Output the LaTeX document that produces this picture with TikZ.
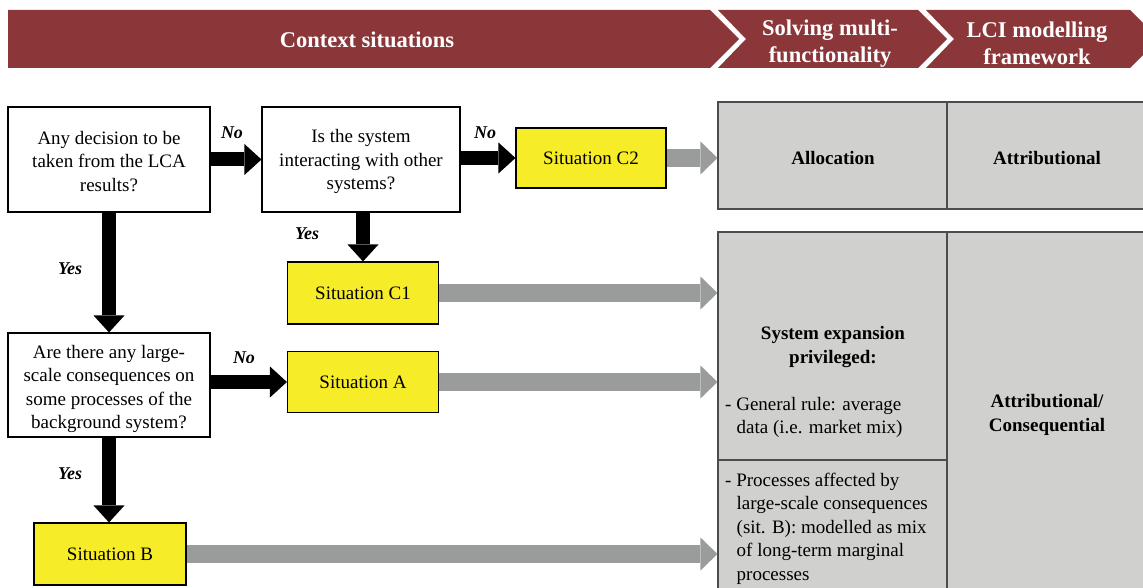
\documentclass[tikz,border=0pt]{standalone}
\usepackage{fontspec}
\setmainfont{Liberation Serif}
\usetikzlibrary{arrows.meta}
\definecolor{hdr}{RGB}{139,54,57}
\definecolor{ylw}{RGB}{247,236,40}
\definecolor{gbox}{RGB}{208,209,207}
\definecolor{garr}{RGB}{154,156,156}
\begin{document}
\begin{tikzpicture}[x=1pt,y=-1pt,
  qbox/.style={draw=black, line width=1.1pt, fill=white, inner sep=0pt},
  qtext/.style={align=center, inner sep=0pt, font=\fontsize{19}{23.5}\selectfont},
  sitbox/.style={draw=black, line width=1.1pt, fill=ylw, align=center, inner sep=0pt,
    font=\fontsize{19}{23.5}\selectfont, minimum width=151pt, minimum height=61pt},
  gcell/.style={draw=black!70, line width=1.1pt, fill=gbox, inner sep=0pt},
  gtext/.style={align=center, inner sep=0pt, font=\fontsize{19}{23.5}\selectfont\bfseries},
  ltext/.style={align=left, anchor=west, inner sep=0pt, font=\fontsize{19}{23.5}\selectfont},
  hdrshape/.style={fill=hdr},
  hdrtext/.style={text=white, align=center, inner sep=0pt, font=\fontsize{22.5}{26.5}\selectfont\bfseries},
  yn/.style={inner sep=0pt, font=\fontsize{18}{20}\selectfont\bfseries\itshape},
  barrow/.style={draw=black, line width=14pt, -{Triangle[length=17pt,width=31pt,line width=0pt]}},
  garrow/.style={draw=garr, line width=18pt, -{Triangle[length=17pt,width=33pt,line width=0pt]}}
]
\useasboundingbox (0,0) rectangle (1143,588);
\clip (0,0) rectangle (1143,588);

% header chevrons
\fill[hdrshape] (8,10) -- (710,10) -- (739,39) -- (710,68) -- (8,68) -- cycle;
\fill[hdrshape] (718,10) -- (918,10) -- (947,39) -- (918,68) -- (718,68) -- (746,39) -- cycle;
\fill[hdrshape] (926,10) -- (1130,10) -- (1159,39) -- (1130,68) -- (926,68) -- (954,39) -- cycle;
\node[hdrtext] (h1) at (367,40) {Context situations};
\node[hdrtext] (h2) at (830,43.5) {Solving multi-\\functionality};
\node[hdrtext] (h3) at (1037,43.5) {LCI modelling\\framework};

% right grey cells
\node[gcell, minimum width=229pt, minimum height=107pt] (alloc) at (832.5,155.5) {};
\node[gcell, minimum width=197pt, minimum height=107pt] (attr) at (1045.5,155.5) {};
\node[gcell, minimum width=229pt, minimum height=228pt] (sysexp) at (832.5,346) {};
\node[gcell, minimum width=229pt, minimum height=130pt] (proc) at (832.5,525) {};
\node[gcell, minimum width=197pt, minimum height=358pt] (attrcons) at (1045.5,411) {};

\node[gtext] (talloc) at (833,158) {Allocation};
\node[gtext] (tattr) at (1047,158) {Attributional};
\node[gtext] (tsys) at (833,347) {System expansion\\privileged:};
\node[gtext] (tattrcons) at (1047,415) {Attributional/\\Consequential};
\node[ltext] (tgen) at (725,417.5) {- General rule: average\\\hspace*{11.5pt}data (i.e. market mix)};
\node[ltext] (tproc) at (725,528.5) {- Processes affected by\\\hspace*{11.5pt}large-scale consequences\\\hspace*{11.5pt}(sit. B): modelled as mix\\\hspace*{11.5pt}of long-term marginal\\\hspace*{11.5pt}processes};

% question boxes
\node[qbox, minimum width=202pt, minimum height=105pt] (q1) at (109,159.5) {};
\node[qtext] (q1t) at ([yshift=-2pt]q1.center) {Any decision to be\\taken from the LCA\\results?};
\node[qbox, minimum width=198pt, minimum height=105pt] (q2) at (361,159.5) {};
\node[qtext] (q2t) at ([yshift=-2pt]q2.center) {Is the system\\interacting with other\\systems?};
\node[qbox, minimum width=202pt, minimum height=104pt] (q3) at (109,385) {};
\node[qtext] (q3t) at ([yshift=-4pt]q3.center) {Are there any large-\\scale consequences on\\some processes of the\\background system?};

% situation boxes
\node[sitbox, minimum width=150pt, minimum height=60pt] (c2) at (591,158) {Situation C2};
\node[sitbox, minimum height=62pt] (c1) at (363,293) {Situation C1};
\node[sitbox] (a) at (363,382) {Situation A};
\node[sitbox, minimum width=152pt, minimum height=62pt] (b) at (110,554) {Situation B};

% black arrows
\draw[barrow] (q1.east) -- (q2.west);
\draw[barrow] (q2.east |- c2) -- (c2.west);
\draw[barrow] (c1.north |- q2.south) -- (c1.north);
\draw[barrow] (q1.south) -- (q3.north);
\draw[barrow] (q3.east |- a) -- (a.west);
\draw[barrow] (q3.south) -- (q3.south |- b.north);

% grey arrows
\draw[garrow] (c2.east) -- (c2.east -| alloc.west);
\draw[garrow] (c1.east) -- (c1.east -| sysexp.west);
\draw[garrow] (a.east) -- (a.east -| sysexp.west);
\draw[garrow] (b.east) -- (b.east -| proc.west);

% yes / no labels
\node[yn] (no1) at (232,133) {No};
\node[yn] (no2) at (485,133) {No};
\node[yn] (no3) at (244,358) {No};
\node[yn] (yes1) at (307,234) {Yes};
\node[yn] (yes2) at (70,269) {Yes};
\node[yn] (yes3) at (70,474) {Yes};
\end{tikzpicture}
\end{document}
